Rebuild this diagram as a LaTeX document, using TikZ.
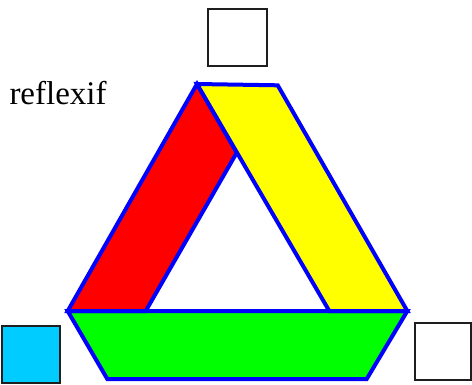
\documentclass[tikz,border=0pt]{standalone}
\usepackage{fontspec}
\setmainfont{Liberation Serif}
\usepackage{tikz}
\usepackage{xcolor}
\usetikzlibrary{positioning,calc}
\definecolor{boxCyan}{RGB}{0,204,255}
\definecolor{edgeBlue}{RGB}{0,0,255}
\definecolor{bandRed}{RGB}{255,0,0}
\definecolor{bandYellow}{RGB}{255,255,0}
\definecolor{bandGreen}{RGB}{0,255,0}
\definecolor{boxGray}{RGB}{30,30,30}
\begin{document}
\begin{tikzpicture}[x=1pt,y=-1pt,
    box/.style={rectangle, draw=boxGray, line width=2pt, fill=white, inner sep=0pt, minimum width=58pt, minimum height=57pt},
    band/.style={draw=edgeBlue, line width=4pt, line join=miter}]
                    \useasboundingbox (0,0) rectangle (472,384);
                    % Bands
                    \coordinate (apex) at (197,84);
                    \coordinate (topR) at (277.7,85.3);
                    \coordinate (mid) at (236.7,152.7);
                    \coordinate (outL) at (67.7,311);
                    \coordinate (outR) at (407.3,311);
                    \coordinate (inL) at (145.7,311);
                    \coordinate (inR) at (329.3,311);
                    \coordinate (botL) at (107.3,379);
                    \coordinate (botR) at (366.7,379);
                    \draw[band, fill=bandGreen] (outL) -- (outR) -- (botR) -- (botL) -- cycle;
                    \draw[band, fill=bandRed] (apex) -- (mid) -- (inL) -- (outL) -- cycle;
                    \draw[band, fill=bandYellow] (apex) -- (topR) -- (outR) -- (inR) -- cycle;

                    % Boxes
                    \node[box, minimum width=59pt, minimum height=57pt] (top) at (237,37.2) {};
                    \node[box, fill=boxCyan] (left) at (31,354) {};
                    \node[box, minimum width=56pt] (right) at (442.7,351.5) {};

                    % Label
                    \node[anchor=base west, inner sep=0pt, font=\fontsize{33}{40}\selectfont] (label) at (9.3,104.3) {reflexif};
                \end{tikzpicture}
\end{document}
